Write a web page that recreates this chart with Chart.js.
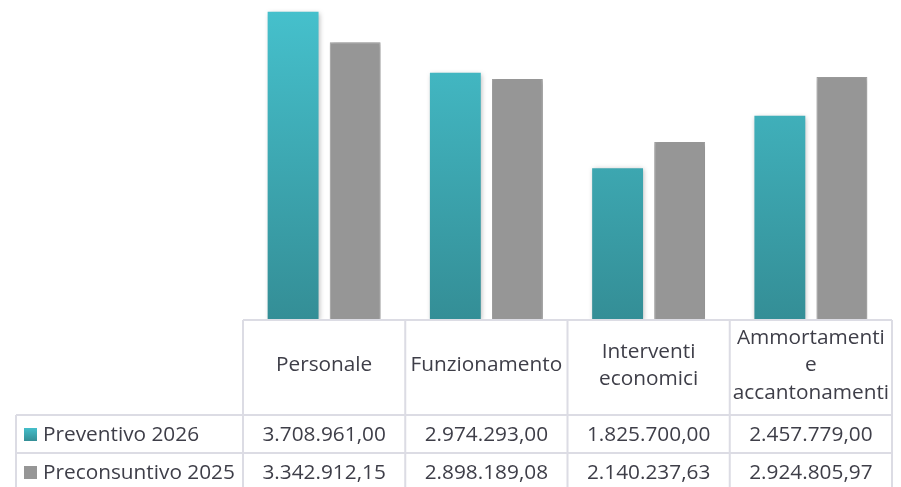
<!DOCTYPE html>
<html>
<head>
<meta charset="utf-8">
<script src="https://cdn.jsdelivr.net/npm/chart.js@4/dist/chart.umd.min.js"></script>
<style>
  html, body { margin: 0; padding: 0; background: #fff; }
  #wrap { position: relative; width: 901px; height: 487px; }
</style>
</head>
<body>
<div id="wrap"><canvas id="spese"></canvas></div>
<script>
var categorie = [["Personale"], ["Funzionamento"], ["Interventi", "economici"], ["Ammortamenti", "e", "accantonamenti"]];
var serie = ["Preventivo 2026", "Preconsuntivo 2025"];
var preventivo2026 = [3708961.00, 2974293.00, 1825700.00, 2457779.00];
var preconsuntivo2025 = [3342912.15, 2898189.08, 2140237.63, 2924805.97];

function formatta(v) {
    return v.toLocaleString('it-IT', {minimumFractionDigits: 2, maximumFractionDigits: 2, useGrouping: 'always'});
}

var FONT = '20.8px "Open Sans", "Noto Sans", sans-serif';
var TESTO = '#3e3e48';
var LINEA = '#dcdce4';

function gradTeal(ctx) {
    var area = ctx.chart.chartArea;
    if (!area) return '#3fb0bb';
    var g = ctx.chart.ctx.createLinearGradient(0, area.top, 0, area.bottom);
    g.addColorStop(0, '#46c2ce');
    g.addColorStop(1, '#348e96');
    return g;
}

// ombra leggera sotto le barre
var ombra = {
    id: 'ombra',
    beforeDatasetsDraw: function(chart) {
        var c = chart.ctx;
        c.save();
        c.shadowColor = 'rgba(0,0,0,0.28)';
        c.shadowBlur = 5;
        c.shadowOffsetX = 1;
        c.shadowOffsetY = 1;
    },
    afterDatasetsDraw: function(chart) {
        chart.ctx.restore();
    }
};

// tabella dati sotto il grafico
var tabella = {
    id: 'tabella',
    afterDraw: function(chart) {
        var c = chart.ctx;
        var x = chart.scales.x;
        var n = categorie.length;
        var passo = (x.right - x.left) / n;
        var top = chart.chartArea.bottom;
        var rigaH = 415 - top;
        var r1 = top + rigaH, r2 = r1 + 38, r3 = r2 + 38;
        var sinistra = 16;

        c.save();
        c.strokeStyle = LINEA;
        c.lineWidth = 2;
        c.beginPath();
        // orizzontali
        c.moveTo(x.left, top); c.lineTo(x.right, top);
        c.moveTo(sinistra, r1); c.lineTo(x.right, r1);
        c.moveTo(sinistra, r2); c.lineTo(x.right, r2);
        c.moveTo(sinistra, r3); c.lineTo(x.right, r3);
        // verticali
        c.moveTo(sinistra, r1); c.lineTo(sinistra, r3);
        for (var i = 0; i <= n; i++) {
            var xx = x.left + i * passo;
            c.moveTo(xx, top); c.lineTo(xx, r3);
        }
        c.stroke();

        c.font = FONT;
        c.fillStyle = TESTO;
        c.textAlign = 'center';
        c.textBaseline = 'middle';
        var lh = 27.5;
        categorie.forEach(function(righe, i) {
            var cx = x.getPixelForValue(i);
            var cy = top + rigaH / 2 - 2;
            var y0 = cy - (righe.length - 1) * lh / 2;
            righe.forEach(function(t, k) { c.fillText(t, cx, y0 + k * lh); });
            c.fillText(formatta(preventivo2026[i]), cx, (r1 + r2) / 2 + 1);
            c.fillText(formatta(preconsuntivo2025[i]), cx, (r2 + r3) / 2 + 1);
        });

        // legenda nelle righe
        var colori = [null, '#969696'];
        [r1, r2].forEach(function(ry, k) {
            var my = ry + 19;
            if (k === 0) {
                var g = c.createLinearGradient(0, my - 7, 0, my + 7);
                g.addColorStop(0, '#46c2ce');
                g.addColorStop(1, '#348e96');
                c.fillStyle = g;
            } else {
                c.fillStyle = colori[k];
            }
            c.fillRect(24, my - 6, 13, 13);
            c.fillStyle = TESTO;
            c.textAlign = 'left';
            c.fillText(serie[k], 43, my + 1);
        });
        c.restore();
    }
};

var ctx = document.getElementById('spese');
var grafico = new Chart(ctx, {
    type: 'bar',
    data: {
        labels: categorie,
        datasets: [{
            label: serie[0],
            data: preventivo2026,
            backgroundColor: gradTeal,
            categoryPercentage: 0.765,
            barPercentage: 0.82
        }, {
            label: serie[1],
            data: preconsuntivo2025,
            backgroundColor: '#969696',
            borderColor: '#a3a3a3',
            borderWidth: 1,
            categoryPercentage: 0.765,
            barPercentage: 0.82
        }]
    },
    options: {
        responsive: true,
        maintainAspectRatio: false,
        animation: false,
        layout: { padding: { left: 243, right: 9, top: 0, bottom: 167 } },
        plugins: { legend: { display: false }, tooltip: { enabled: false } },
        scales: {
            x: { display: false },
            y: { display: false, min: 0, max: 3850000 }
        }
    },
    plugins: [ombra, tabella]
});
</script>
</body>
</html>
